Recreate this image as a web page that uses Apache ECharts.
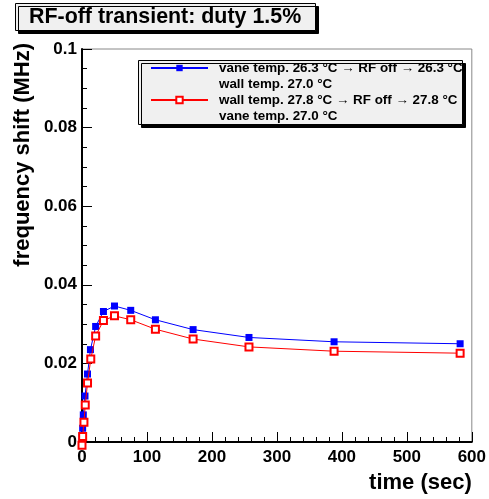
<!DOCTYPE html>
<html>
<head>
<meta charset="utf-8">
<script src="https://cdn.jsdelivr.net/npm/echarts@6/dist/echarts.min.js"></script>
<style>html,body{margin:0;padding:0;background:#fff;}#c{width:489px;height:499px;}</style>
</head>
<body>
<div id="c"></div>
<script>
const titleText = 'RF-off transient: duty 1.5%';
const xName = 'time (sec)';
const yName = 'frequency shift (MHz)';
const blueName = 'vane temp. 26.3 °C → RF off → 26.3 °C\nwall temp. 27.0 °C';
const redName = 'wall temp. 27.8 °C → RF off → 27.8 °C\nvane temp. 27.0 °C';
const blueTime = [0, 1, 2, 4.6, 8.5, 13, 21, 33, 50, 75, 113, 171, 257, 388, 582];
const blueVal = [0.0013, 0.0035, 0.0069, 0.0117, 0.0173, 0.0235, 0.0294, 0.0332, 0.0346, 0.0335, 0.0311, 0.0286, 0.0266, 0.0255, 0.0250];
const redTime = [0, 1, 3, 5, 8.5, 13.5, 21, 33, 50, 75, 113, 171, 257, 388, 582];
const redVal = [-0.0008, 0.0014, 0.0050, 0.0094, 0.0150, 0.0211, 0.0270, 0.0309, 0.0321, 0.0311, 0.0287, 0.0262, 0.0242, 0.0231, 0.0226];

const FONT = '"Liberation Sans", Arial, Helvetica, sans-serif';
const zip = (a, b) => a.map((v, i) => [v, b[i]]);

const chart = echarts.init(document.getElementById('c'), null, {renderer: 'canvas'});
chart.setOption({
  animation: false,
  backgroundColor: '#fff',
  title: {
    text: titleText, left: 15, top: 3,
    padding: [3, 15, 3, 14],
    backgroundColor: '#f0f0f0', borderColor: '#000', borderWidth: 1,
    shadowColor: '#000', shadowOffsetX: 3, shadowOffsetY: 3, shadowBlur: 0,
    textStyle: {fontFamily: FONT, fontWeight: 'bold', fontSize: 21.4, color: '#000', lineHeight: 22}
  },
  graphic: [{
    type: 'rect', left: 138, top: 60, z: 3,
    shape: {width: 324, height: 64},
    style: {fill: '#f0f0f0', stroke: '#000', lineWidth: 1, shadowColor: '#000', shadowOffsetX: 3, shadowOffsetY: 3, shadowBlur: 0}
  }],
  legend: {
    left: 150, top: 44, orient: 'vertical', padding: 0,
    itemWidth: 57, itemHeight: 8, itemGap: -16,
    data: [blueName, redName],
    formatter: function (name) { return ' \n' + name; },
    textStyle: {fontFamily: FONT, fontWeight: 'bold', fontSize: 13.4, color: '#000', lineHeight: 16, padding: [0, 0, 0, 6]},
    z: 5
  },
  grid: {left: 82, right: 17, top: 49, bottom: 57, show: true, borderColor: '#888', borderWidth: 1},
  xAxis: {
    type: 'value', min: 0, max: 600, interval: 100,
    name: xName, nameLocation: 'end', nameGap: 0,
    nameTextStyle: {fontFamily: FONT, fontWeight: 'bold', fontSize: 22, color: '#000', align: 'right', verticalAlign: 'top', padding: [30, 0, 0, 0]},
    axisLine: {lineStyle: {color: '#000', width: 2}},
    axisTick: {inside: true, length: 10, lineStyle: {color: '#000'}},
    minorTick: {show: true, splitNumber: 5, length: 5, lineStyle: {color: '#000'}},
    splitLine: {show: false},
    axisLabel: {fontFamily: FONT, fontWeight: 'bold', fontSize: 17, color: '#000', margin: 7}
  },
  yAxis: {
    type: 'value', min: 0, max: 0.1, interval: 0.02,
    name: yName, nameLocation: 'end', nameGap: 6, nameRotate: 90,
    nameTextStyle: {fontFamily: FONT, fontWeight: 'bold', fontSize: 22, color: '#000', align: 'right', verticalAlign: 'bottom', padding: [0, 0, 48, 0]},
    axisLine: {lineStyle: {color: '#000', width: 2}},
    axisTick: {inside: true, length: 10, lineStyle: {color: '#000'}},
    minorTick: {show: true, splitNumber: 4, length: 5, lineStyle: {color: '#000'}},
    splitLine: {show: false},
    axisLabel: {fontFamily: FONT, fontWeight: 'bold', fontSize: 17, color: '#000', margin: 5}
  },
  series: [
    {
      name: blueName, type: 'line', data: zip(blueTime, blueVal), clip: false,
      symbol: 'rect', symbolSize: 7,
      lineStyle: {color: '#0000ff', width: 1},
      itemStyle: {color: '#0000ff'}, z: 3
    },
    {
      name: redName, type: 'line', data: zip(redTime, redVal), clip: false,
      symbol: 'emptyRect', symbolSize: 7,
      lineStyle: {color: '#ff0000', width: 1},
      itemStyle: {color: '#ff0000', borderColor: '#ff0000', borderWidth: 1}, z: 4
    }
  ]
});
</script>
</body>
</html>
